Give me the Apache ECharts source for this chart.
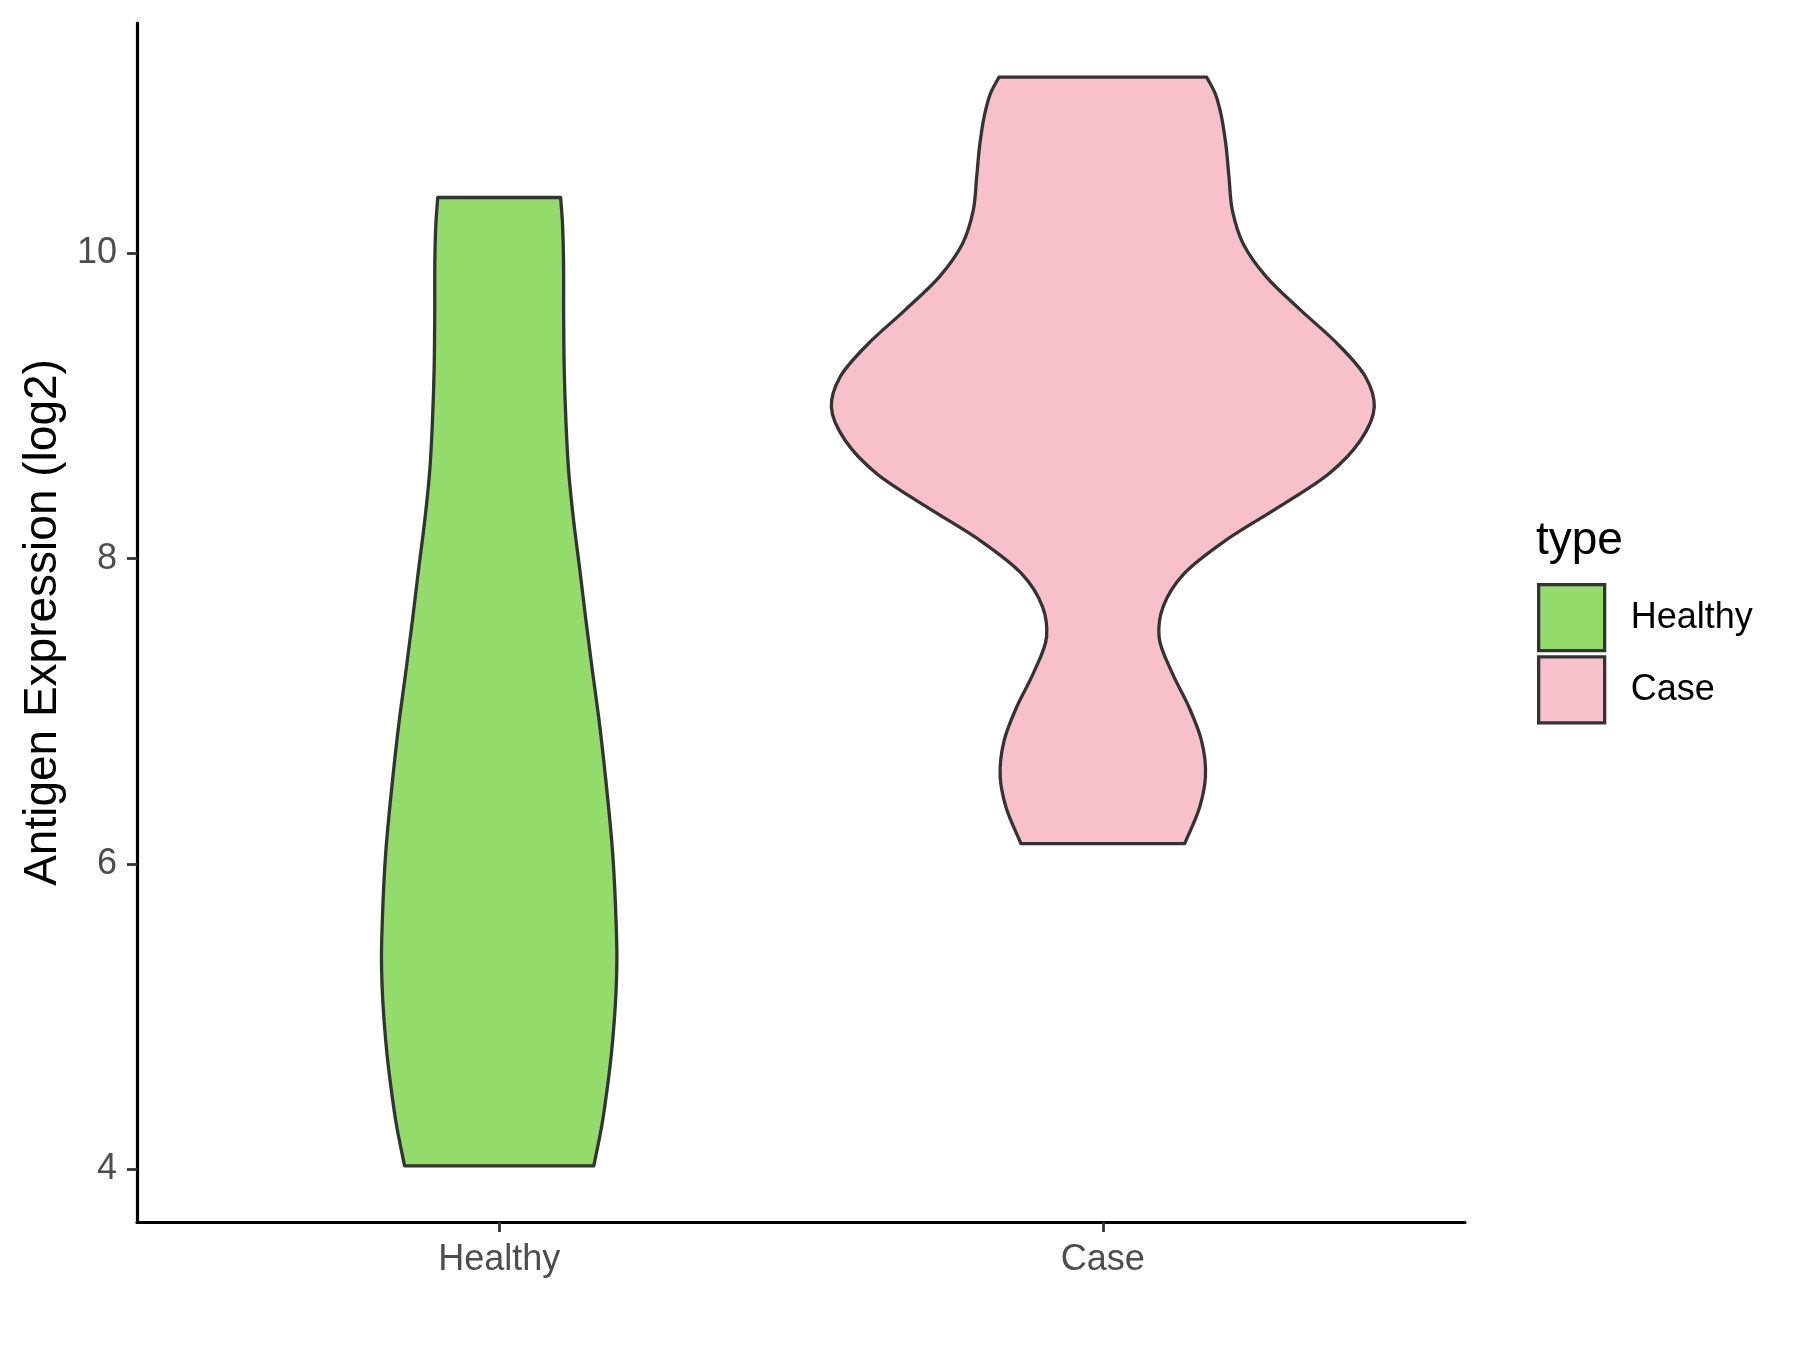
<!DOCTYPE html>
<html>
<head>
<meta charset="utf-8">
<script src="https://cdn.jsdelivr.net/npm/echarts@6/dist/echarts.min.js"></script>
<style>html,body{margin:0;padding:0;background:#fff}#c{width:1800px;height:1350px}</style>
</head>
<body>
<div id="c"></div>
<script>
const categories = ['Healthy', 'Case'];
const yTicks = [4, 6, 8, 10];
const yTitle = 'Antigen Expression (log2)';
const legendTitle = 'type';
const fillColors = ['#93DB6B', '#F8C0CB'];

// violin outlines: expression level and half-width (in category units)
const healthyLevels = [4.022, 4.3, 4.521, 4.742, 4.964, 5.185, 5.406, 5.628, 6.071, 6.514, 6.957, 7.27, 7.597, 7.924, 8.25, 8.579, 8.907, 9.234, 9.6, 10.0, 10.2, 10.366];
const healthyHalfWidths = [0.1567, 0.1706, 0.1787, 0.1855, 0.1905, 0.1938, 0.1950, 0.1936, 0.1880, 0.1776, 0.1650, 0.1543, 0.1437, 0.1337, 0.1233, 0.1150, 0.1105, 0.1078, 0.1068, 0.1064, 0.1048, 0.1018];
const caseLevels = [6.134, 6.373, 6.57, 6.81, 7.028, 7.247, 7.487, 7.684, 7.902, 8.12, 8.339, 8.557, 8.776, 8.994, 9.19, 9.409, 9.628, 9.846, 10.06, 10.28, 10.50, 10.72, 10.94, 11.05, 11.154];
const caseHalfWidths = [0.1357, 0.1605, 0.1700, 0.1634, 0.1428, 0.1154, 0.0932, 0.0998, 0.1346, 0.2036, 0.2918, 0.3745, 0.4270, 0.4497, 0.4353, 0.3884, 0.3277, 0.2709, 0.2329, 0.2147, 0.2090, 0.2036, 0.1941, 0.1859, 0.1721];

const FONT = 'Liberation Sans, Arial, Helvetica, sans-serif';

// smooth side curve: x as a function of y (cubic Hermite with non-uniform tangents)
function sideCurve(pts) {
  const n = pts.length, m = [];
  for (let i = 0; i < n; i++) {
    if (i === 0) m.push((pts[1][0] - pts[0][0]) / (pts[1][1] - pts[0][1]));
    else if (i === n - 1) m.push((pts[n - 1][0] - pts[n - 2][0]) / (pts[n - 1][1] - pts[n - 2][1]));
    else {
      const h0 = pts[i][1] - pts[i - 1][1], h1 = pts[i + 1][1] - pts[i][1];
      const d0 = (pts[i][0] - pts[i - 1][0]) / h0, d1 = (pts[i + 1][0] - pts[i][0]) / h1;
      m.push((d0 * h1 + d1 * h0) / (h0 + h1));
    }
  }
  let s = '';
  for (let i = 0; i < n - 1; i++) {
    const h = pts[i + 1][1] - pts[i][1];
    const c1x = pts[i][0] + m[i] * h / 3, c1y = pts[i][1] + h / 3;
    const c2x = pts[i + 1][0] - m[i + 1] * h / 3, c2y = pts[i + 1][1] - h / 3;
    s += ' C' + c1x + ',' + c1y + ' ' + c2x + ',' + c2y + ' ' + pts[i + 1][0] + ',' + pts[i + 1][1];
  }
  return s;
}

function violinRenderer(levels, widths, xIdx, color) {
  return function (params, api) {
    const left = levels.map((v, i) => api.coord([xIdx - widths[i], v]));
    const right = levels.map((v, i) => api.coord([xIdx + widths[i], v])).reverse();
    const d = 'M' + left[0][0] + ',' + left[0][1] + sideCurve(left) +
      ' L' + right[0][0] + ',' + right[0][1] + sideCurve(right) + ' Z';
    return {
      type: 'path',
      shape: { pathData: d },
      style: { fill: color, stroke: '#333333', lineWidth: 3.3, lineJoin: 'round' }
    };
  };
}

const chart = echarts.init(document.getElementById('c'), null, { renderer: 'canvas' });
chart.setOption({
  backgroundColor: '#ffffff',
  animation: false,
  textStyle: { fontFamily: FONT },
  title: {
    text: legendTitle, left: 1536, top: 518, padding: 0,
    textStyle: { fontFamily: FONT, fontSize: 46, fontWeight: 'normal', color: '#000' }
  },
  legend: {
    orient: 'vertical', left: 1537, top: 583, padding: 0,
    itemWidth: 66, itemHeight: 66, itemGap: 3, icon: 'rect',
    textStyle: { fontFamily: FONT, fontSize: 36, color: '#000', padding: [0, 0, 0, 21] },
    data: categories.map((c, i) => ({ name: c, itemStyle: { color: fillColors[i], borderColor: '#333333', borderWidth: 3.3 } }))
  },
  grid: { left: 137, right: 335, top: 23, bottom: 128, containLabel: false },
  xAxis: {
    type: 'value', min: -0.6, max: 1.6,
    axisLine: { onZero: false, lineStyle: { color: '#000', width: 3.2 } },
    axisTick: { customValues: [0, 1], length: 10, lineStyle: { color: '#333', width: 2.8 } },
    axisLabel: { customValues: [0, 1], formatter: v => categories[Math.round(v)], fontSize: 36, color: '#4D4D4D', margin: 20, fontFamily: FONT },
    splitLine: { show: false }
  },
  yAxis: {
    type: 'value', min: 3.655, max: 11.509,
    name: yTitle, nameLocation: 'middle', nameRotate: 90, nameGap: 71,
    nameTextStyle: { fontSize: 46, color: '#000', fontFamily: FONT },
    axisLine: { onZero: false, lineStyle: { color: '#000', width: 3.2 } },
    axisTick: { customValues: yTicks, length: 10, lineStyle: { color: '#333', width: 2.8 } },
    axisLabel: { customValues: yTicks, fontSize: 36, color: '#4D4D4D', margin: 20, fontFamily: FONT },
    splitLine: { show: false }
  },
  series: [
    { type: 'custom', name: categories[0], coordinateSystem: 'cartesian2d', itemStyle: { color: fillColors[0] },
      renderItem: violinRenderer(healthyLevels, healthyHalfWidths, 0, fillColors[0]), data: [[0, healthyLevels[0]]], silent: true },
    { type: 'custom', name: categories[1], coordinateSystem: 'cartesian2d', itemStyle: { color: fillColors[1] },
      renderItem: violinRenderer(caseLevels, caseHalfWidths, 1, fillColors[1]), data: [[1, caseLevels[0]]], silent: true }
  ]
});
</script>
</body>
</html>
